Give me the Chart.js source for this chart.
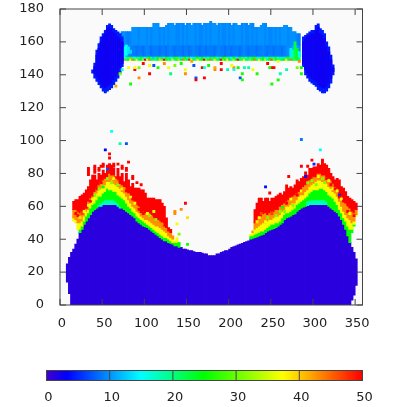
<!DOCTYPE html>
<html>
<head>
<meta charset="utf-8">
<style>
  html, body { margin: 0; padding: 0; background: #fff; }
  canvas { position: absolute; left: 0; display: block; }
  #map { top: 0; }
  #bar { top: 345px; }
</style>
<script src="https://cdn.jsdelivr.net/npm/chart.js@4"></script>
</head>
<body>
<canvas id="map" width="407" height="345"></canvas>
<canvas id="bar" width="407" height="62"></canvas>
<script>
const xTicks = [0, 50, 100, 150, 200, 250, 300, 350];
const yTicks = [0, 20, 40, 60, 80, 100, 120, 140, 160, 180];
const barTicks = [0, 10, 20, 30, 40, 50];

// colour map, value -> rgb
const paletteV = [0, 3.3, 15, 25, 37.5, 50];
const paletteRGB = [[68, 0, 204], [0, 0, 255], [0, 255, 255], [0, 255, 0], [255, 255, 0], [255, 0, 0]];

// value levels of the stacked bands in the wings
const bandV = [18, 25, 37, 43, 50];
const humpV = 1.2;

// big lower shape, one column per 2.5 degrees
const humpX = [7.5,10,12.5,15,17.5,20,22.5,25,27.5,30,32.5,35,37.5,40,42.5,45,47.5,50,52.5,55,57.5,60,62.5,65,67.5,70,72.5,75,77.5,80,82.5,85,87.5,90,92.5,95,97.5,100,102.5,105,107.5,110,112.5,115,117.5,120,122.5,125,127.5,130,132.5,135,137.5,140,142.5,145,147.5,150,152.5,155,157.5,160,162.5,165,167.5,170,172.5,175,177.5,180,182.5,185,187.5,190,192.5,195,197.5,200,202.5,205,207.5,210,212.5,215,217.5,220,222.5,225,227.5,230,232.5,235,237.5,240,242.5,245,247.5,250,252.5,255,257.5,260,262.5,265,267.5,270,272.5,275,277.5,280,282.5,285,287.5,290,292.5,295,297.5,300,302.5,305,307.5,310,312.5,315,317.5,320,322.5,325,327.5,330,332.5,335,337.5,340,342.5,345,347.5,350];
const humpLo = [14,7,0,0,0,0,0,0,0,0,0,0,0,0,0,0,0,0,0,0,0,0,0,0,0,0,0,0,0,0,0,0,0,0,0,0,0,0,0,0,0,0,0,0,0,0,0,0,0,0,0,0,0,0,0,0,0,0,0,0,0,0,0,0,0,0,0,0,0,0,0,0,0,0,0,0,0,0,0,0,0,0,0,0,0,0,0,0,0,0,0,0,0,0,0,0,0,0,0,0,0,0,0,0,0,0,0,0,0,0,0,0,0,0,0,0,0,0,0,0,0,0,0,0,0,0,0,0,0,0,0,0,0,0,0,3,6,12];
const humpTop = [25,29,32,34,37,40,44,46,49,51,53,55,57,58,59,60,60,61,61,61,61,61,61,61,60,59,59,58,57,56,55,54,53,51,50,49,48,47.5,47,46,45,44,43,42,41,40,39,39,38,37.5,37,36,36,35,35,34,34,33.5,33,33,32.5,32,32,32,31.5,31,31,30,30,30,30,31,31,32,32.5,33,33,34,35,35.5,36,36.5,37,37.5,38,38.5,39,40,40.5,41,41.5,42,42.5,43,44,45,45.5,46,46.5,47,48,49,50,52,53,53.5,54,55,55.5,57,58,59,59.5,60,60.5,61,61,61,61,61,61,61,61,61,60,59,58,57,56,54,52,49,46,42,38,35,32,28];

// left wing: start of the colour stack, then top of each band
const leftX = [15,17.5,20,22.5,25,27.5,30,32.5,35,37.5,40,42.5,45,47.5,50,52.5,55,57.5,60,62.5,65,67.5,70,72.5,75,77.5,80,82.5,85,87.5,90,92.5,95,97.5,100,102.5,105,107.5,110,112.5,115,117.5,120,122.5,125,127.5,130,132.5,135,137.5,140];
const leftStart = [51,50,46,44,46,49,51,53,55,57,58,59,60,60,61,61,61,61,61,61,61,60,59,59,58,57,56,55,54,53,51,50,49,48,47.5,47,46,45,44,43,42,41,40,39,39,38,37.5,37,36,36,35];
const leftTeal = [51,50,46,44,46,49,51,53,55,57,58,59,61,62,63,64,64,64,64,64,63,62,60,59,58,57,56,55,54,53,51,50,49,48,47.5,47,46,45,44,43,42,41,40,39,39,38,37.5,37,36,36,35];
const leftGreen = [51,50,46,46,48,51,54,56,59,61,62,64,66,66,68,69,71,70,70,69,69,67,66,65,64,62,60,59,57,56,54,53,52,51,50,49,48,47,46,45,44,43,42,41,41,40,39,38,38,38,38];
const leftYellow = [53,52,50,50,51,54,57,58,62,64,66,68,70,71,73,73,75,76,76,74,73,72,71,69,68,66,64,62,60,59,57,56,54,53,52,52,51,50,49,48,48,47,46,45,44,42,41,40,39,41,38];
const leftOrange = [58,58,57,56,57,58,60,63,65,67,69,71,73,75,76,77,78,80,79,79,77,76,75,73,72,70,68,66,65,63,61,60,58,57,56,56,56,55,53,53,52,51,50,48,47,45,44,42,39,41,38];
const leftRed = [63,64,64,66,67,68,70,72,76,79,79,76,80,79,82,80,85,86,85,83,78,83,78,80,75,80,76,72,74,71,71,71,70,70,68,65,65,65,65,64,64,64,62,60,53,47,46,42,39,41,38];

// right wing, same layout
const rightX = [225,227.5,230,232.5,235,237.5,240,242.5,245,247.5,250,252.5,255,257.5,260,262.5,265,267.5,270,272.5,275,277.5,280,282.5,285,287.5,290,292.5,295,297.5,300,302.5,305,307.5,310,312.5,315,317.5,320,322.5,325,327.5,330,332.5,335,337.5,340,342.5,345,347.5,350];
const rightStart = [40,40.5,41,41.5,42,42.5,43,44,45,45.5,46,46.5,47,48,49,50,52,53,53.5,54,55,55.5,57,58,59,59.5,60,60.5,61,61,61,61,61,61,61,61,61,60,59,58,57,56,54,52,49,46,42,38,44,48,54];
const rightTeal = [40,40.5,41,41.5,42,42.5,43,44,45,45.5,46,46.5,47,48,49,50,52,53,53.5,54,55,55.5,57,58,59,59.5,60,63,63.5,64,64,64,64,64,64,64,63,60,59,58,57,56,54,52,49,46,42,38,44,48,54];
const rightGreen = [42,42,43,43.5,44,45,45,46,47,48,49,49,50,50,51,53,55,56,56,57,58,59,61,62,63,64,65,66,68,69,70,70,70,71,71,70,69,67,66,65,63,61,58,56,53,51,48,46,46,49,54];
const rightYellow = [43,44,46,47,48,49,50,50,51,52,52,53,54,54,55,57,58,60,60,61,62,62,64,66,67,67,69,70,72,73,74,75,76,76,75,75,74,72,71,69,68,66,63,60,57,55,53,52,50,51,55];
const rightOrange = [43,45,50,52,53,54,55,56,55,56,57,57,58,58,60,61,62,63,64,65,66,67,68,69,70,72,73,74,76,77,78,78,80,80,79,79,78,77,76,74,72,71,68,66,63,62,60,59,57,56,58];
const rightRed = [43,45,58,62,65,65,63,65,65,63,65,65,66,67,68,67,69,73,71,72,71,73,76,75,77,78,81,79,83,83,84,84,86,85,88,86,85,83,80,78,76,77,76,72,71,69,66,65,64,63,62];

// blue strip across the top
const stripX = [72.5,75,77.5,80,82.5,85,87.5,90,92.5,95,97.5,100,102.5,105,107.5,110,112.5,115,117.5,120,122.5,125,127.5,130,132.5,135,137.5,140,142.5,145,147.5,150,152.5,155,157.5,160,162.5,165,167.5,170,172.5,175,177.5,180,182.5,185,187.5,190,192.5,195,197.5,200,202.5,205,207.5,210,212.5,215,217.5,220,222.5,225,227.5,230,232.5,235,237.5,240,242.5,245,247.5,250,252.5,255,257.5,260,262.5,265,267.5,270,272.5,275,277.5,280,282.5];
const stripTop = [166.25,166.25,166.25,166.25,166.25,168.75,168.75,168.75,168.75,168.75,168.75,168.75,168.75,168.75,168.75,171.25,171.25,171.25,168.75,168.75,168.75,170,171.25,171.25,171.25,170,171.25,171.25,171.25,171.25,170,171.25,171.25,170,171.25,171.25,171.25,171.25,170,171.25,171.25,171.25,172.5,171.25,171.25,170,171.25,171.25,171.25,171.25,171.25,171.25,170,171.25,171.25,170,170,171.25,171.25,171.25,170,171.25,171.25,168.75,168.75,168.75,170,171.25,171.25,168.75,168.75,168.75,168.75,168.75,168.75,168.75,168.75,170,170,168.75,168.75,166.25,166.25,165,165];
const stripUpperV = [9.5,10,9.5,9,9.5,10,10,10,9.5,10,10,10,9.5,10,9.5,10,10,10,9.5,10,9.5,10,9.5,10,10,10,9.5,9.5,10,9.5,10,9.5,10,10,10,9.5,10,9.5,9.5,10,9.5,10,9.5,10,10,10,9.5,10,9.5,9.5,10,9.5,10,9.5,10,10,10,9.5,10,9.5,9.5,10,9.5,10,9.5,10,10,10,9.5,10,9.5,9.5,10,9.5,10,9.5,10,10,10,9.5,10,10,10,9.5,9];
const stripLowerV = [13,12,11,10,9.5,9,9,8.5,9,9,8.5,9,9.5,9,8.5,9,9,9,8.5,9,9,8.5,9,9.5,9,8.5,9,9,9,8.5,9,9,8.5,9,9.5,9,9,8.5,9,9,8.5,9,9,9,8.5,9,9.5,9,9,8.5,9,9,8.5,9,9,9,8.5,9,9.5,9,8.5,9,9,9,8.5,9,9,9.5,9,8.5,9,9,8.5,9,9,9,8.5,9,9.5,10,10,11,12,11,10];
// bottom fringe of the strip, two rows of mixed values
const fringeA = [20,19,17,18,28,18,16,20,18,24,18,16,20,26,18,12,18,24,18,22,16,26,20,14,18,24,28,18,14,20,26,18,22,16,14,20,26,18,24,18,20,16,24,18,26,16,20,18,24,28,18,20,16,24,18,14,26,18,20,16,24,18,22,26,18,14,20,24,18,16,22,20,18,24,16,20,18,14,22,26,18,24,22,18,16];
const fringeB = [50,44,28,24,36,44,26,38,22,24,32,50,36,44,22,28,18,26,40,30,50,24,28,22,36,18,26,32,24,44,28,22,48,36,26,18,38,28,24,50,30,26,44,22,36,28,24,50,30,26,38,24,20,34,26,50,22,28,36,24,18,30,26,44,22,38,28,24,34,20,26,46,30,22,28,18,24,26,38,22,44,24,28,22,26];

// the two dark lobes at the strip ends
const lobeX = [37.5,40,42.5,45,47.5,50,52.5,55,57.5,60,62.5,65,67.5,70,72.5,287.5,290,292.5,295,297.5,300,302.5,305,307.5,310,312.5,315,317.5,320,322.5];
const lobeLo = [141,138,136,134,132,130,129,130,131,132,134,136,138,141,145,145,140,138,136,135,134,133,131,130,129,129,130,132,135,140];
const lobeHi = [143,147,155,159,163,165,167,170,171,170,168,167,166,165,163,163,164,165,166,167,167,170,171,168,167,165,160,157,152,146];
const lobeCoreLo = [142,141,139,137,135,133,132,133,134,135,137,139,141,144,147,147,143,141,139,138,137,136,134,133,132,132,133,135,138,142];
const lobeCoreHi = [142,145,152,156,160,163,165,168,169,168,166,165,163,162,160,160,162,163,164,165,165,167,169,165,164,162,157,154,149,144];

// left and right cyan/green patches where strip meets lobes
const patchX = [72.5,75,77.5,80,82.5,272.5,275,277.5,280,282.5];
const patchLo = [150,150,152,153,153,151,150,150,150,151];
const patchHi = [156,157,158,157,155,156,155,160,156,154];
const patchV = [17,16,15,14,13,14,18,22,24,15];

// single stray cells
const strayX = [60,70,77.5,52.5,57.5,57.5,80,147.5,142.5,135,135,150,137.5,140,150,285,307.5,297.5,310,300,270,242.5,247.5,285,292.5,290,330,72.5,70,80,87.5,92.5,105,130,147.5,147.5,160,160,170,82.5,65,87.5,92.5,97.5,105,110,115,122.5,127.5,135,142.5,155,157.5,167.5,170,175,182.5,182.5,190,197.5,205,205,190,202.5,210,217.5,222.5,227.5,232.5,215,212.5,215,250,257.5,260,267.5,285,245,250,252.5,247.5,257.5,282.5,285,280,55];
const strayY = [105,97.5,97.5,93.75,91.25,88.75,86.25,61.25,57.5,55,56.25,52.5,48.75,42.5,36.25,100,93.75,87.5,87.5,85,77.5,71.25,67.5,83.75,83.75,77.5,66.25,142.5,140,143.75,142.5,137.5,140,140,142.5,140,137.5,136.25,137.5,133.75,132.5,143.75,143.75,146.25,145,145,143.75,146.25,143.75,145,146.25,147.5,145,143.75,143.75,145,142.5,143.75,142.5,142.5,143.75,142.5,146.25,145,143.75,143.75,143.75,142.5,140,140,137.5,136.25,133.75,136.25,140,142.5,140,146.25,143.75,143.75,143.75,147.5,147.5,143.75,143.75,82];
const strayV = [15,18,7,3,50,50,50,50,43,43,43,39,37,31,26,9,15,50,50,5,50,4,50,50,50,4,5,16,31,37,50,43,50,20,37,43,7,50,50,26,42,37,31,50,37,7,26,43,37,31,26,42,7,50,16,26,43,42,50,18,43,15,50,37,25,18,18,37,26,26,7,26,26,26,18,18,26,50,50,50,26,37,43,26,31,7];

// mottling inside the wings
const noiseX = [17.5,20,22.5,25,27.5,30,32.5,35,37.5,37.5,40,42.5,45,47.5,50,52.5,55,57.5,60,62.5,65,67.5,70,72.5,75,77.5,80,82.5,85,87.5,90,92.5,95,97.5,100,102.5,105,107.5,110,112.5,115,117.5,120,122.5,232.5,235,237.5,240,242.5,245,250,255,260,262.5,265,267.5,272.5,275,280,285,287.5,292.5,295,297.5,302.5,305,310,312.5,315,317.5,320,322.5,325,327.5,330,332.5,335,337.5,340,342.5,345,347.5];
const noiseY = [55,53.75,52.5,55,56.25,58.75,60,62.5,63.75,66.25,66.25,70,70,73.75,71.25,75,76.25,75,73.75,76.25,75,72.5,73.75,70,70,68.75,66.25,65,63.75,61.25,58.75,57.5,56.25,55,57.5,55,53.75,52.5,56.25,51.25,50,53.75,48.75,50,50,52.5,55,53.75,50,52.5,55,53.75,56.25,58.75,56.25,61.25,63.75,60,66.25,68.75,68.75,73.75,76.25,75,72.5,77.5,76.25,73.75,76.25,75,72.5,70,70,68.75,65,63.75,62.5,58.75,56.25,55,51.25,53.75];
const noiseV = [50,50,39,47,37,50,37,50,37,50,31,50,31,50,25,43,31,43,31,37,43,31,50,37,43,50,43,37,50,37,43,50,50,50,50,37,31,43,37,31,43,50,43,50,39,37,47,43,37,31,47,31,31,25,31,50,37,31,50,37,43,31,50,31,31,37,31,31,50,37,50,37,50,37,50,37,50,43,50,37,43,50];

// isolated red cells above the wings
const topRedX = [32.5,32.5,32.5,32.5,40,40,40,40,45,45,47.5,50,50,62.5,62.5,67.5,72.5,72.5,77.5,77.5,85,85,90,95];
const topRedY = [78.75,80,81.25,82.5,80,81.25,82.5,83.75,81.25,82.5,83.75,83.75,85,85,83.75,85,83.75,82.5,82.5,81.25,76.25,77.5,73.75,72.5];

const cols = 360 / 144;
const rowH = 1.25;
const bgColor = '#fafafa';

function valueColor(v) {
    let i = 0;
    while (i < paletteV.length - 2 && v > paletteV[i + 1]) i++;
    const t = Math.min(1, Math.max(0, (v - paletteV[i]) / (paletteV[i + 1] - paletteV[i])));
    const a = paletteRGB[i], b = paletteRGB[i + 1];
    return `rgb(${a.map((c, k) => Math.round(c + (b[k] - c) * t)).join(',')})`;
}

const cells = [];
const cellColors = [];
function addCell(x, lo, hi, v) {
    if (hi <= lo) return;
    cells.push({ x: x + cols / 2, y: [lo, hi] });
    cellColors.push(valueColor(v));
}

humpX.forEach((x, i) => addCell(x, humpLo[i], humpTop[i], humpV));

function addWing(xs, start, tops) {
    xs.forEach((x, i) => {
        let lo = start[i];
        tops.forEach((arr, b) => {
            addCell(x, lo, arr[i], bandV[b]);
            lo = Math.max(lo, arr[i]);
        });
    });
}
addWing(leftX, leftStart, [leftTeal, leftGreen, leftYellow, leftOrange, leftRed]);
addWing(rightX, rightStart, [rightTeal, rightGreen, rightYellow, rightOrange, rightRed]);

stripX.forEach((x, i) => {
    addCell(x, 148.75, 150, fringeB[i]);
    addCell(x, 150, 151.25, fringeA[i]);
    addCell(x, 151.25, 158, stripLowerV[i]);
    addCell(x, 158, stripTop[i], stripUpperV[i]);
});
patchX.forEach((x, i) => addCell(x, patchLo[i], patchHi[i], patchV[i]));
lobeX.forEach((x, i) => {
    addCell(x, lobeLo[i], lobeHi[i], 4.5);
    addCell(x, lobeCoreLo[i], lobeCoreHi[i], 2.5);
});
strayX.forEach((x, i) => addCell(x, strayY[i], strayY[i] + rowH, strayV[i]));
noiseX.forEach((x, i) => addCell(x, noiseY[i], noiseY[i] + rowH, noiseV[i]));
topRedX.forEach((x, i) => addCell(x, topRedY[i], topRedY[i] + rowH, 50));

const tickFont = { family: "'DejaVu Sans'", size: 13 };
const tickColor = '#222';

// plot background, frame and the inward ticks on all four sides
const framePlugin = {
    id: 'frame',
    beforeDatasetsDraw(chart) {
        const a = chart.chartArea;
        chart.ctx.fillStyle = bgColor;
        chart.ctx.fillRect(a.left, a.top, a.right - a.left, a.bottom - a.top);
    },
    afterDatasetsDraw(chart) {
        const { ctx, chartArea: a, scales } = chart;
        ctx.save();
        ctx.strokeStyle = '#444';
        ctx.lineWidth = 1;
        ctx.beginPath();
        xTicks.forEach(v => {
            const p = scales.x.getPixelForValue(v);
            ctx.moveTo(p, a.bottom); ctx.lineTo(p, a.bottom - 6);
            ctx.moveTo(p, a.top); ctx.lineTo(p, a.top + 6);
        });
        yTicks.forEach(v => {
            const p = scales.y.getPixelForValue(v);
            ctx.moveTo(a.left, p); ctx.lineTo(a.left + 6, p);
            ctx.moveTo(a.right, p); ctx.lineTo(a.right - 6, p);
        });
        ctx.stroke();
        ctx.strokeRect(a.left, a.top, a.right - a.left, a.bottom - a.top);
        ctx.restore();
    }
};

new Chart(document.getElementById('map'), {
    type: 'bar',
    data: {
        datasets: [{
            data: cells,
            backgroundColor: cellColors,
            barThickness: 2.108,
            inflateAmount: 0.4,
            grouped: false
        }]
    },
    options: {
        responsive: false,
        animation: false,
        layout: { padding: { top: 9, right: 44.5, left: 0, bottom: 0 } },
        plugins: { legend: { display: false }, tooltip: { enabled: false } },
        scales: {
            x: {
                type: 'linear', min: 0, max: 358.75, offset: false,
                grid: { display: false }, border: { display: false },
                afterFit(s) { s.height = 40; s.paddingLeft = 0; s.paddingRight = 0; },
                afterBuildTicks(s) { s.ticks = xTicks.map(v => ({ value: v })); },
                ticks: { font: tickFont, color: tickColor, padding: 3, maxRotation: 0, labelOffset: 2 }
            },
            y: {
                min: 0, max: 180,
                grid: { display: false }, border: { display: false },
                afterFit(s) { s.width = 60; s.paddingTop = 0; s.paddingBottom = 0; },
                afterBuildTicks(s) { s.ticks = yTicks.map(v => ({ value: v })); },
                ticks: { font: tickFont, color: tickColor, padding: 8 }
            }
        }
    },
    plugins: [framePlugin]
});

// colour key: ramp is just the palette sampled along the scale
const keyCells = [];
const keyColors = [];
for (let v = 0; v < 50; v += 0.25) {
    keyCells.push({ x: v + 0.125, y: [0, 1] });
    keyColors.push(valueColor(v + 0.125));
}

const keyPlugin = {
    id: 'key',
    afterDatasetsDraw(chart) {
        const { ctx, chartArea: a, scales } = chart;
        ctx.save();
        ctx.strokeStyle = '#444';
        ctx.lineWidth = 1;
        ctx.beginPath();
        barTicks.forEach(v => {
            const p = scales.x.getPixelForValue(v);
            ctx.moveTo(p, a.top); ctx.lineTo(p, a.bottom);
        });
        ctx.stroke();
        ctx.strokeRect(a.left, a.top, a.right - a.left, a.bottom - a.top);
        ctx.restore();
    }
};

new Chart(document.getElementById('bar'), {
    type: 'bar',
    data: { datasets: [{ data: keyCells, backgroundColor: keyColors, barThickness: 1.6, inflateAmount: 0.4, grouped: false }] },
    options: {
        responsive: false,
        animation: false,
        layout: { padding: { top: 25.5, left: 46.5, right: 44.5, bottom: 0 } },
        plugins: { legend: { display: false }, tooltip: { enabled: false } },
        scales: {
            x: {
                type: 'linear', min: 0, max: 50, offset: false,
                grid: { display: false }, border: { display: false },
                afterFit(s) { s.height = 26.5; s.paddingLeft = 0; s.paddingRight = 0; },
                afterBuildTicks(s) { s.ticks = barTicks.map(v => ({ value: v })); },
                ticks: { font: tickFont, color: tickColor, padding: 1, maxRotation: 0, labelOffset: 2 }
            },
            y: { display: false, min: 0, max: 1 }
        }
    },
    plugins: [keyPlugin]
});
</script>
</body>
</html>
